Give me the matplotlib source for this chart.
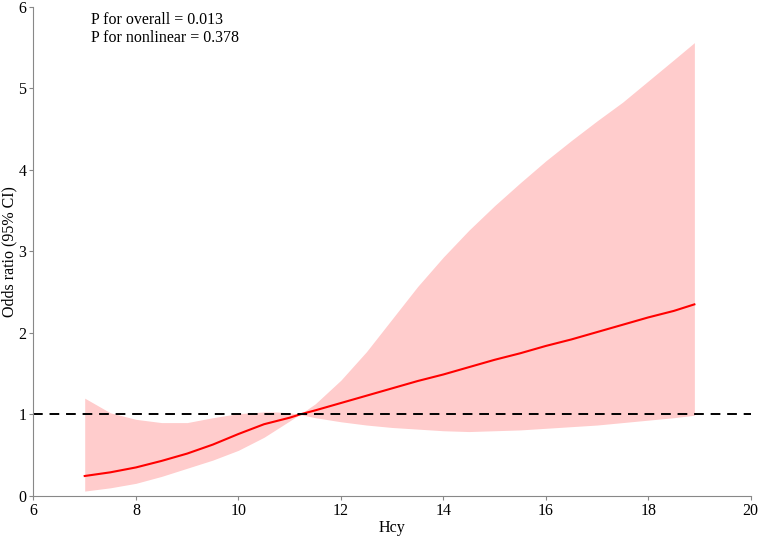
import matplotlib
matplotlib.use('Agg')
import matplotlib.pyplot as plt

# values
hcy = [7.0, 7.5, 8.0, 8.5, 9.0, 9.5, 10.0, 10.5, 10.75, 11.0, 11.2, 11.5, 12.0, 12.5,
       13.0, 13.5, 14.0, 14.5, 15.0, 15.5, 16.0, 16.5, 17.0, 17.5, 18.0, 18.5, 18.9]
odds = [0.245, 0.29, 0.35, 0.43, 0.52, 0.63, 0.76, 0.88, 0.92, 0.96, 1.0, 1.05, 1.14, 1.23,
        1.32, 1.41, 1.49, 1.58, 1.67, 1.75, 1.84, 1.92, 2.01, 2.10, 2.19, 2.27, 2.35]
upper = [1.20, 1.02, 0.94, 0.90, 0.90, 0.96, 1.01, 1.03, 1.03, 1.02, 1.0, 1.13, 1.42, 1.77,
         2.17, 2.57, 2.93, 3.26, 3.56, 3.84, 4.11, 4.36, 4.60, 4.83, 5.09, 5.35, 5.56]
lower = [0.06, 0.10, 0.155, 0.24, 0.34, 0.44, 0.56, 0.72, 0.82, 0.92, 1.0, 0.96, 0.91, 0.87,
         0.84, 0.82, 0.80, 0.79, 0.80, 0.81, 0.83, 0.85, 0.87, 0.90, 0.93, 0.96, 0.99]
p_text = ['P for overall = 0.013', 'P for nonlinear = 0.378']

plt.rcParams['font.family'] = ['Liberation Serif', 'DejaVu Serif']

fig = plt.figure(figsize=(7.59, 5.37), dpi=100)
ax = fig.add_axes([0.0441, 0.0764, 0.945, 0.911])

ax.fill_between(hcy, lower, upper, color='#ffcccc', linewidth=0)
ax.plot(hcy, odds, color='red', linewidth=1.5)
ax.axhline(1, color='black', linestyle=(0, (5, 3.5)), linewidth=1.4)

ax.set_xlim(6, 20)
ax.set_ylim(0, 6)
ax.set_xticks(range(6, 21, 2))
ax.set_yticks(range(0, 7))

for side in ['top', 'right']:
    ax.spines[side].set_visible(False)
for side in ['left', 'bottom']:
    ax.spines[side].set_color('#888888')
    ax.spines[side].set_linewidth(0.8)
ax.tick_params(color='#888888', length=3, width=0.8, labelsize=11.5, pad=2)

ax.set_xlabel('Hcy', fontsize=11.5, labelpad=1)
ax.set_ylabel('Odds ratio (95% CI)', fontsize=11.5, labelpad=1)

ax.text(7.12, 5.93, '\n'.join(p_text), ha='left', va='top', fontsize=11.5, linespacing=1.15)

plt.savefig('out.png', dpi=100)
